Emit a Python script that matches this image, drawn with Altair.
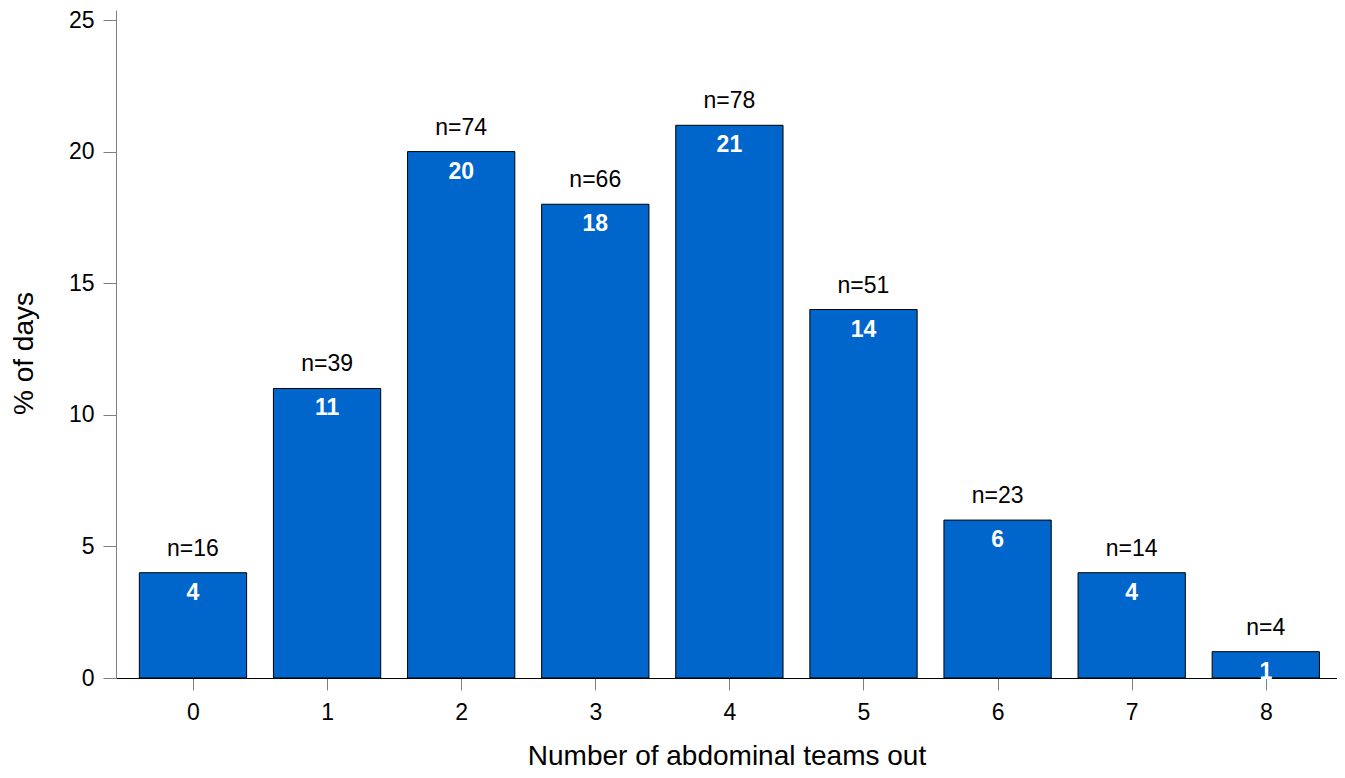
import altair as alt
import pandas as pd

teams = [0, 1, 2, 3, 4, 5, 6, 7, 8]
pct_days = [4, 11, 20, 18, 21, 14, 6, 4, 1]
n_days = [16, 39, 74, 66, 78, 51, 23, 14, 4]

df = pd.DataFrame({"teams": teams, "pct": pct_days, "n": n_days})
df["nlabel"] = ["n=" + str(v) for v in n_days]

FONT = "Liberation Sans"
xscale = alt.Scale(domain=[-0.574, 8.531], nice=False, zero=False)
yscale = alt.Scale(domain=[0, 25.38], nice=False)

base = alt.Chart(df).transform_calculate(
    x0="datum.teams - 0.4", x1="datum.teams + 0.4"
)

bars = base.mark_bar(color="#0066CC", stroke="#000000", strokeWidth=1).encode(
    x=alt.X("x0:Q", scale=xscale,
            axis=alt.Axis(values=teams, format="d", title="Number of abdominal teams out",
                          domainColor="#000000", domainWidth=1,
                          tickColor="#808080", tickSize=12, tickWidth=1,
                          labelFontSize=23, labelPadding=11, labelColor="#000000",
                          titleFontSize=28, titleFontWeight="normal", titleColor="#000000",
                          titleBaseline="alphabetic", titleY=86, grid=False)),
    x2="x1:Q",
    y=alt.Y("pct:Q", scale=yscale,
            axis=alt.Axis(values=[0, 5, 10, 15, 20, 25], title="% of days",
                          domainColor="#808080", domainWidth=1,
                          tickColor="#808080", tickSize=13, tickWidth=1,
                          labelFontSize=23, labelPadding=9, labelColor="#000000",
                          titleFontSize=28, titleFontWeight="normal", titleColor="#000000",
                          titleAngle=-90, titleBaseline="middle", titleAlign="center",
                          titleX=-92, titleY=343, grid=False)),
    y2=alt.datum(0),
)

ntext = base.mark_text(font=FONT, fontSize=23, color="#000000", baseline="alphabetic", dy=-17).encode(
    x=alt.X("teams:Q", scale=xscale),
    y=alt.Y("pct:Q", scale=yscale),
    text="nlabel:N",
)

vtext = base.mark_text(font=FONT, fontSize=23, fontWeight="bold", color="#FFFFFF", baseline="alphabetic", dy=27).encode(
    x=alt.X("teams:Q", scale=xscale),
    y=alt.Y("pct:Q", scale=yscale),
    text="pct:Q",
)

chart = alt.layer(bars, ntext, vtext).properties(
    width=1221, height=668,
    autosize=alt.AutoSizeParams(type="none"),
    padding={"left": 108, "top": 2, "right": 0, "bottom": 92},
    view=alt.ViewBackground(stroke="transparent", strokeWidth=0),
).configure_view(stroke="transparent", strokeWidth=0, strokeOpacity=0).configure(font=FONT).configure_axis(labelFont=FONT, titleFont=FONT)

chart.save("out.html", embed_options={"renderer": "svg", "actions": False})
